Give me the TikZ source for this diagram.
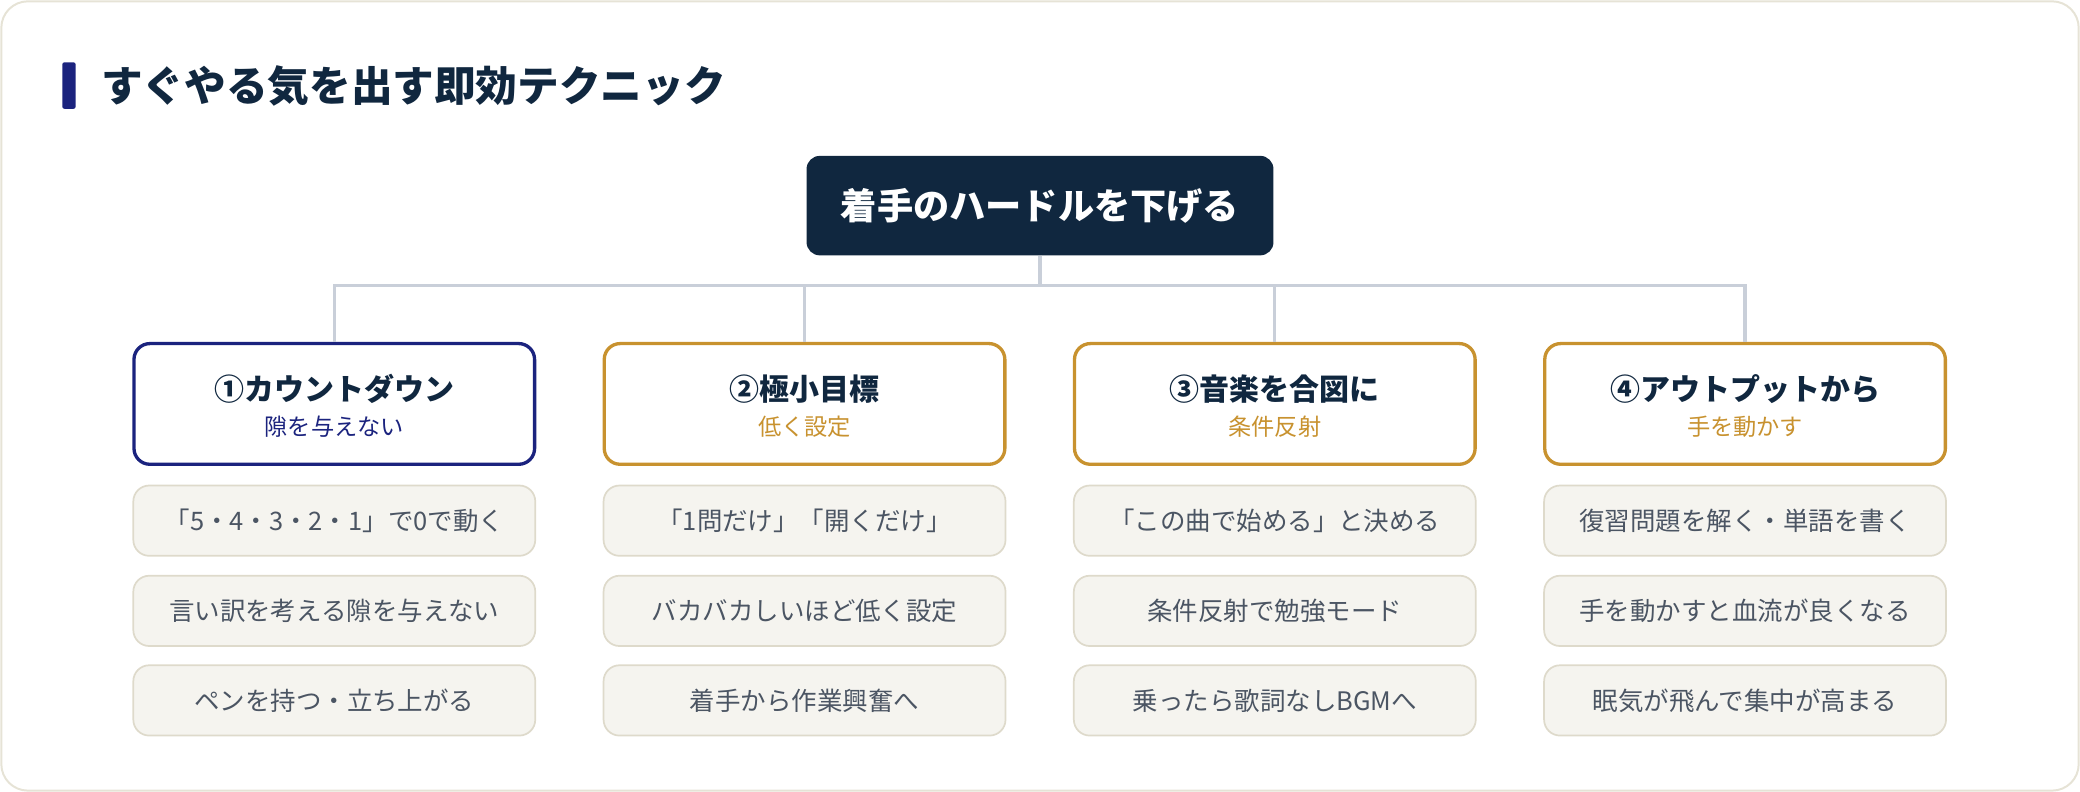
\documentclass[tikz,border=0pt]{standalone}
\usepackage{fontspec}
\setmainfont{Noto Sans CJK JP}
\usetikzlibrary{positioning}

\definecolor{ink}{HTML}{10273F}
\definecolor{accent}{HTML}{1B237E}
\definecolor{gold}{HTML}{C8922F}
\definecolor{linkgray}{HTML}{C9CFD9}
\definecolor{itemfill}{HTML}{F5F4EF}
\definecolor{itemline}{HTML}{DEDACB}
\definecolor{itemtext}{HTML}{4B5563}
\definecolor{frame}{HTML}{E6E3D6}

\tikzset{
  rootbox/.style={fill=ink, rounded corners=10pt, minimum width=352pt, minimum height=75pt,
    text=white, font=\bfseries\fontsize{27.3}{31}\selectfont},
  catbox/.style={draw=#1, fill=white, line width=2.5pt, rounded corners=12pt,
    minimum width=302pt, minimum height=91pt},
  cathead/.style={text=ink, font=\bfseries\fontsize{22.6}{26}\selectfont},
  catsub/.style={text=#1, font=\fontsize{17.5}{20}\selectfont},
  itembox/.style={draw=itemline, fill=itemfill, line width=1.3pt, rounded corners=12pt,
    minimum width=303pt, minimum height=53pt, text=itemtext, font=\fontsize{19.2}{22}\selectfont},
  link/.style={draw=linkgray, line width=2.5pt}
}

\begin{document}
\begin{tikzpicture}[x=1pt, y=-1pt]
  \useasboundingbox (0,0) rectangle (1568,597);
  \draw[frame, line width=1.5pt, rounded corners=20pt] (1,1) rectangle (1567,596);

  \fill[accent, rounded corners=1.5pt] (47,47) rectangle (57,82);
  \node[anchor=west, inner sep=0pt, text=ink, font=\bfseries\fontsize{31.4}{36}\selectfont]
    (title) at (76,65) {すぐやる気を出す即効テクニック};

  \node[rootbox] (root) at (784,155) {着手のハードルを下げる};
  \coordinate (hub) at (784,215);

  \foreach \i/\col/\head/\sub in {1/accent/①カウントダウン/隙を与えない,
      2/gold/②極小目標/低く設定, 3/gold/③音楽を合図に/条件反射,
      4/gold/④アウトプットから/手を動かす}{
    \node[catbox=\col] (cat\i) at ({252+354.5*(\i-1)},304.5) {};
    \node[cathead] (cat\i head) at ([yshift=11.5pt]cat\i.center) {\head};
    \node[catsub=\col] (cat\i sub) at ([yshift=-17.5pt]cat\i.center) {\sub};
  }

  % connectors first go under the boxes
  \foreach \i in {1,...,4}
    \draw[link] (root.south) -- (hub) -| (cat\i.north);

  \foreach \i/\a/\b/\c in {1/「5・4・3・2・1」で0で動く/言い訳を考える隙を与えない/ペンを持つ・立ち上がる,
      2/「1問だけ」「開くだけ」/バカバカしいほど低く設定/着手から作業興奮へ,
      3/「この曲で始める」と決める/条件反射で勉強モード/乗ったら歌詞なしBGMへ,
      4/復習問題を解く・単語を書く/手を動かすと血流が良くなる/眠気が飛んで集中が高まる}{
    \node[itembox] (item\i a) at ({252+354.5*(\i-1)},392.5) {\a};
    \node[itembox] (item\i b) at ({252+354.5*(\i-1)},460.5) {\b};
    \node[itembox] (item\i c) at ({252+354.5*(\i-1)},528) {\c};
  }
\end{tikzpicture}
\end{document}
